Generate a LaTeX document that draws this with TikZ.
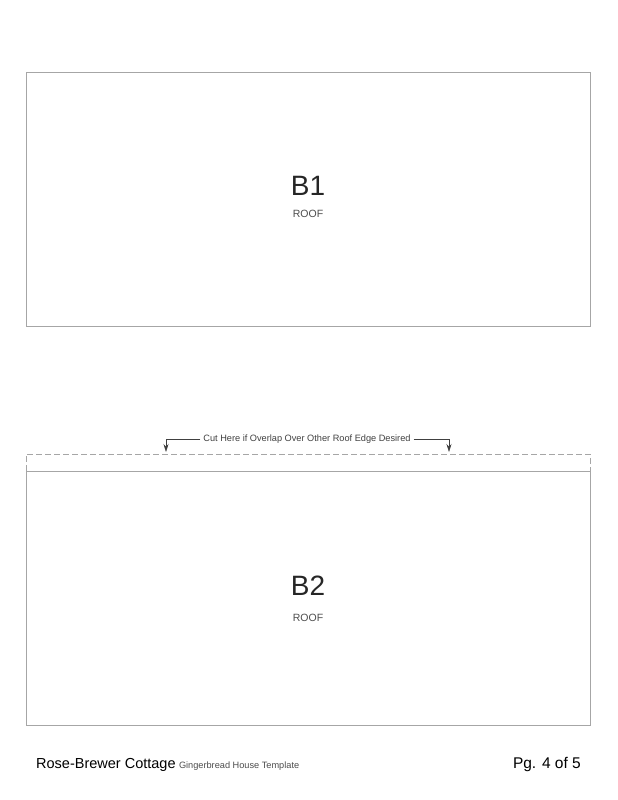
\documentclass[tikz,border=0pt]{standalone}
\usepackage{fontspec}
\setmainfont{Liberation Sans}
\usepackage{tikz}
\usetikzlibrary{arrows.meta}

\begin{document}
\begin{tikzpicture}[x=1pt,y=-1pt]
\tikzstyle{panel}=[draw=black!35,line width=0.8pt]
\tikzstyle{cutline}=[draw=black!35,line width=0.8pt,dash pattern=on 6pt off 3pt]
\tikzstyle{big}=[font=\fontsize{28}{28}\selectfont,text=black!85,inner sep=0pt]
\tikzstyle{small}=[font=\fontsize{10.5}{10.5}\selectfont,text=black!70,inner sep=0pt]
\tikzstyle{note}=[font=\fontsize{9.2}{9.2}\selectfont,text=black!75,inner sep=3pt]
\tikzstyle{cutarrow}=[black!75,line width=0.5pt,-{Stealth[length=8pt,width=5pt]}]
\useasboundingbox (0,0) rectangle (618,800);
% top roof piece
\draw[panel] (26,72) rectangle (590,326);
\node[big] (b1) at (308,186) {B1};
\node[small] (r1) at (308,214) {ROOF};
% bottom roof piece with overlap strip
\draw[cutline] (26,471) -- (26,454) -- (590,454) -- (590,471);
\draw[panel] (26,725) -- (26,471) -- (590,471) -- (590,725) -- cycle;
\node[big] (b2) at (308,586) {B2};
\node[small] (r2) at (308,618) {ROOF};
% cut note
\node[note] (cut) at (307,439) {Cut Here if Overlap Over Other Roof Edge Desired};
\coordinate (la) at (166,452);
\coordinate (ra) at (449,452);
\draw[cutarrow] (cut.west) -| (la);
\draw[cutarrow] (cut.east) -| (ra);
% footer
\node[anchor=base west,inner sep=0pt,font=\fontsize{14.5}{14.5}\selectfont] (title) at (36,768) {Rose-Brewer Cottage};
\node[anchor=base west,inner sep=0pt,font=\fontsize{9.2}{9.2}\selectfont,text=black!70] (sub) at ([xshift=3pt]title.base east) {Gingerbread House Template};
\node[anchor=base east,inner sep=0pt,font=\fontsize{15.5}{15.5}\selectfont] (page) at (581,768) {Pg. 4 of 5};
\end{tikzpicture}
\end{document}
